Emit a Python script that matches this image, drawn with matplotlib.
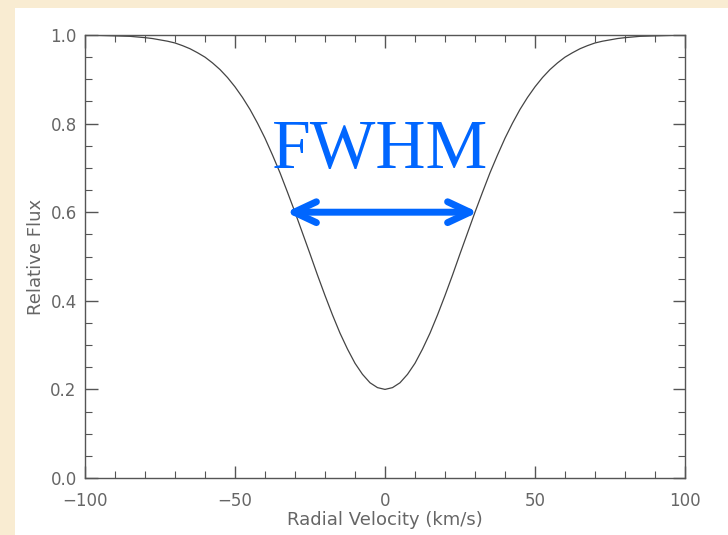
import numpy as np
import matplotlib.pyplot as plt
from matplotlib.ticker import MultipleLocator

velocity = [-100, -95, -90, -85, -80, -77.5, -75, -72.5, -70, -67.5, -65,
            -62.5, -60, -57.5, -55, -52.5, -50, -47.5, -45, -42.5, -40, -37.5,
            -35, -32.5, -30, -27.5, -25, -22.5, -20, -17.5, -15, -12.5, -10,
            -7.5, -5, -2.5, 0, 2.5, 5, 7.5, 10, 12.5, 15, 17.5, 20, 22.5, 25,
            27.5, 30, 32.5, 35, 37.5, 40, 42.5, 45, 47.5, 50, 52.5, 55, 57.5,
            60, 62.5, 65, 67.5, 70, 72.5, 75, 77.5, 80, 85, 90, 95, 100]
flux = [1.000, 0.999, 0.998, 0.997, 0.994, 0.992, 0.989, 0.986, 0.982, 0.976,
        0.969, 0.960, 0.950, 0.937, 0.922, 0.904, 0.883, 0.859, 0.832, 0.801,
        0.767, 0.729, 0.689, 0.645, 0.600, 0.553, 0.506, 0.458, 0.412, 0.368,
        0.327, 0.291, 0.259, 0.234, 0.215, 0.204, 0.200, 0.204, 0.215, 0.234,
        0.259, 0.291, 0.327, 0.368, 0.412, 0.458, 0.506, 0.553, 0.600, 0.645,
        0.689, 0.729, 0.767, 0.801, 0.832, 0.859, 0.883, 0.904, 0.922, 0.937,
        0.950, 0.960, 0.969, 0.976, 0.982, 0.986, 0.989, 0.992, 0.994, 0.997,
        0.998, 0.999, 1.000]

# half-maximum width marker
fwhm_left = -33
fwhm_right = 31
half_level = 0.6

fig = plt.figure(figsize=(7.28, 5.35), dpi=100)
fig.patch.set_facecolor('#f9ecd2')
# white panel behind the plot
fig.add_artist(plt.Rectangle((15/728, 0), 1, 1 - 8/535, transform=fig.transFigure,
                             facecolor='white', edgecolor='none', zorder=0))

ax = fig.add_axes([85/728, 1 - 478/535, 600/728, 443/535])
ax.set_facecolor('white')

ax.plot(velocity, flux, color='#444444', lw=0.9)

ax.annotate('', xy=(fwhm_right, half_level), xytext=(fwhm_left, half_level),
            arrowprops=dict(arrowstyle='<->,head_length=1.6,head_width=0.75',
                            color='#0066ff', lw=5, capstyle='round',
                            joinstyle='round', shrinkA=0, shrinkB=0))
ax.text(-1.5, 0.70, 'FWHM', color='#0066ff', fontsize=50,
        family='Liberation Serif', ha='center', va='baseline')

ax.set_xlim(-100, 100)
ax.set_ylim(0, 1.0)
ax.xaxis.set_major_locator(MultipleLocator(50))
ax.xaxis.set_minor_locator(MultipleLocator(10))
ax.yaxis.set_major_locator(MultipleLocator(0.2))
ax.yaxis.set_minor_locator(MultipleLocator(0.05))
ax.yaxis.set_major_formatter(plt.FormatStrFormatter('%.1f'))

for s in ax.spines.values():
    s.set_color('#555555')
    s.set_linewidth(1.0)
ax.tick_params(which='both', direction='in', top=True, right=True,
               color='#555555', labelcolor='#666666', labelsize=12)
ax.tick_params(which='major', length=9, width=1.0)
ax.tick_params(which='minor', length=5, width=0.8)
ax.tick_params(axis='x', pad=10)
ax.tick_params(axis='y', pad=6)

ax.set_xlabel('Radial Velocity (km/s)', color='#666666', fontsize=13, labelpad=1)
ax.set_ylabel('Relative Flux', color='#666666', fontsize=13, labelpad=4)

fig.savefig('out.png', dpi=100, facecolor=fig.get_facecolor())
